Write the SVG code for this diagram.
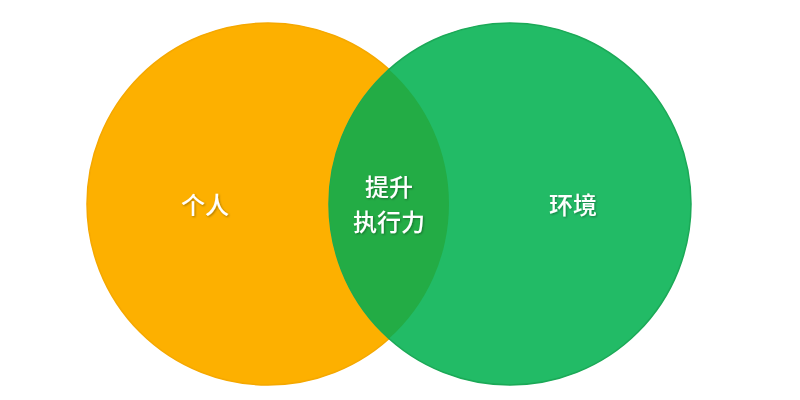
<svg xmlns="http://www.w3.org/2000/svg" width="800" height="400" viewBox="0 0 800 400">
<defs>
<filter id="ts" x="-20%" y="-20%" width="140%" height="140%"><feDropShadow dx="1" dy="1" stdDeviation="0.8" flood-color="#000" flood-opacity="0.35"/></filter>
</defs>
<style>
.lbl{font-family:"Noto Sans CJK SC","Noto Sans",sans-serif;font-size:24px;font-weight:500;fill:#ffffff;text-anchor:middle;filter:url(#ts)}
</style>
<rect width="800" height="400" fill="#ffffff"/>
<g id="personal">
<circle cx="268" cy="204" r="181" fill="#fdb000" stroke="#f5a800" stroke-width="1.5"/>
<text class="lbl" x="205" y="214">个人</text>
</g>
<g id="environment">
<circle cx="510" cy="204" r="181" fill="#22bb66" stroke="#1ba957" stroke-width="1.5"/>
<text class="lbl" x="573" y="214">环境</text>
</g>
<g id="overlap">
<path d="M389,69.4 A181,181 0 0,1 389,338.6 A181,181 0 0,1 389,69.4 Z" fill="#23ac45"/>
<text class="lbl" x="389" y="196">提升</text>
<text class="lbl" x="389" y="231">执行力</text>
</g>
<g id="connectors"/>
</svg>
